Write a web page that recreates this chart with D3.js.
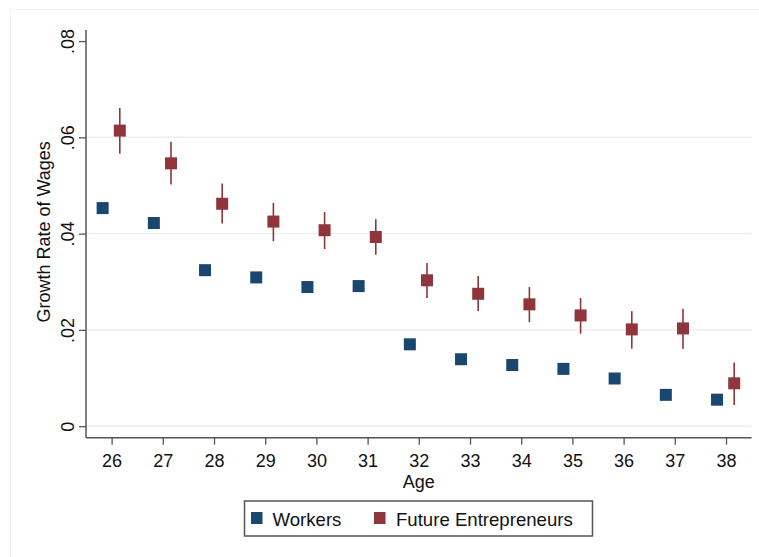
<!DOCTYPE html>
<html>
<meta charset="utf-8">
<head>
    <script src="https://d3js.org/d3.v7.min.js"></script>
    <style>
        body { margin: 0; background: #fff; }
        text { font-family: "Liberation Sans", Arial, sans-serif; fill: #111; }
    </style>
</head>
<body>
    <div id="my_dataviz"></div>
</body>

<script>
    // data
    const ages = [26, 27, 28, 29, 30, 31, 32, 33, 34, 35, 36, 37, 38];
    const workers = [0.0453, 0.0422, 0.0324, 0.0309, 0.0289, 0.0291, 0.0170, 0.0139, 0.0127, 0.0119, 0.0099, 0.0065, 0.0055];
    const workersLo = [0.0445, 0.0416, 0.0319, 0.0304, 0.0284, 0.0286, 0.0165, 0.0134, 0.0122, 0.0114, 0.0094, 0.0060, 0.0050];
    const workersHi = [0.0461, 0.0428, 0.0329, 0.0314, 0.0294, 0.0296, 0.0175, 0.0144, 0.0132, 0.0124, 0.0104, 0.0070, 0.0060];
    const entrep = [0.0614, 0.0546, 0.0462, 0.0425, 0.0407, 0.0393, 0.0303, 0.0275, 0.0253, 0.0230, 0.0201, 0.0203, 0.0089];
    const entrepLo = [0.0566, 0.0502, 0.0421, 0.0384, 0.0368, 0.0356, 0.0266, 0.0239, 0.0216, 0.0192, 0.0161, 0.0161, 0.0044];
    const entrepHi = [0.0661, 0.0591, 0.0504, 0.0464, 0.0445, 0.0430, 0.0339, 0.0312, 0.0289, 0.0266, 0.0239, 0.0244, 0.0132];
    const yTicks = [0, 0.02, 0.04, 0.06, 0.08];
    const seriesNames = ["Workers", "Future Entrepreneurs"];
    const colors = ["#1a476f", "#90353b"];
    const offsets = [-0.175, 0.16];

    const W = 759, H = 557;
    const pLeft = 86, pRight = 751.6, pTop = 30, pBottom = 437.7;

    const svg = d3.select("#my_dataviz")
        .append("svg")
            .attr("width", W)
            .attr("height", H);

    // faint outer frame
    svg.append("rect")
        .attr("x", 10.5).attr("y", 9.5)
        .attr("width", W).attr("height", H)
        .attr("fill", "none")
        .attr("stroke", "#f2f2f2");

    const x = d3.scaleLinear()
        .domain([25.5, 38.5])
        .range([pLeft, pRight]);

    const y = d3.scaleLinear()
        .domain([-0.0024, 0.0823])
        .range([pBottom, pTop]);

    // gridlines (not at top tick)
    svg.selectAll("line.grid")
        .data(yTicks.filter(d => d < 0.08))
        .join("line")
            .attr("class", "grid")
            .attr("x1", pLeft).attr("x2", pRight)
            .attr("y1", d => y(d)).attr("y2", d => y(d))
            .attr("stroke", "#eaf2f3")
            .attr("stroke-width", 1.5);

    // Y axis
    const yAxis = svg.append("g")
        .attr("transform", `translate(${pLeft},0)`)
        .call(d3.axisLeft(y)
            .tickValues(yTicks)
            .tickSize(7)
            .tickSizeOuter(0)
            .tickFormat(d => d === 0 ? "0" : d3.format(".2f")(d).replace(/^0/, "")));
    yAxis.select(".domain").attr("stroke", "#555").attr("stroke-width", 1.5)
        .attr("d", `M0,${pTop}V${pBottom}`);
    yAxis.selectAll(".tick line").attr("stroke", "#555").attr("stroke-width", 1.3);
    yAxis.selectAll("text")
        .attr("transform", "rotate(-90)")
        .attr("x", 0)
        .attr("y", -12)
        .attr("dy", 0)
        .style("text-anchor", "middle")
        .style("font-size", "18px")
        .style("font-family", "Liberation Sans, Arial, sans-serif")
        .style("fill", "#111");

    // X axis
    const xAxis = svg.append("g")
        .attr("transform", `translate(0,${pBottom})`)
        .call(d3.axisBottom(x)
            .tickValues(ages)
            .tickSize(7)
            .tickSizeOuter(0)
            .tickFormat(d3.format("d")));
    xAxis.select(".domain").attr("stroke", "#555").attr("stroke-width", 1.5)
        .attr("d", `M${pLeft},0H${pRight}`);
    xAxis.selectAll(".tick line").attr("stroke", "#555").attr("stroke-width", 1.3);
    xAxis.selectAll("text")
        .attr("y", 29.8)
        .attr("dy", 0)
        .style("font-size", "18px")
        .style("font-family", "Liberation Sans, Arial, sans-serif")
        .style("fill", "#111");

    // axis titles
    svg.append("text")
        .attr("x", (pLeft + pRight) / 2)
        .attr("y", 488)
        .attr("text-anchor", "middle")
        .style("font-size", "18px")
        .text("Age");

    svg.append("text")
        .attr("transform", `translate(50,${(pTop + pBottom) / 2 - 2})rotate(-90)`)
        .attr("text-anchor", "middle")
        .style("font-size", "18px")
        .text("Growth Rate of Wages");

    // series: CI spikes + square markers
    const series = [
        { name: seriesNames[0], val: workers, lo: workersLo, hi: workersHi },
        { name: seriesNames[1], val: entrep, lo: entrepLo, hi: entrepHi }
    ];
    const sq = 12;

    series.forEach((s, i) => {
        const g = svg.append("g");
        g.selectAll("line.ci")
            .data(ages)
            .join("line")
                .attr("class", "ci")
                .attr("x1", d => x(d + offsets[i]))
                .attr("x2", d => x(d + offsets[i]))
                .attr("y1", (d, j) => y(s.lo[j]))
                .attr("y2", (d, j) => y(s.hi[j]))
                .attr("stroke", colors[i])
                .attr("stroke-width", 1.6);
        g.selectAll("rect")
            .data(ages)
            .join("rect")
                .attr("x", d => x(d + offsets[i]) - sq / 2)
                .attr("y", (d, j) => y(s.val[j]) - sq / 2)
                .attr("width", sq)
                .attr("height", sq)
                .attr("fill", colors[i]);
    });

    // legend
    const lg = svg.append("g");
    lg.append("rect")
        .attr("x", 244.5).attr("y", 501)
        .attr("width", 348).attr("height", 35)
        .attr("fill", "#fff")
        .attr("stroke", "#555")
        .attr("stroke-width", 1.5);
    const legendX = [[251, 272.5], [374, 396]];
    seriesNames.forEach((n, i) => {
        lg.append("rect")
            .attr("x", legendX[i][0]).attr("y", 512)
            .attr("width", 11.5).attr("height", 12)
            .attr("fill", colors[i]);
        lg.append("text")
            .attr("x", legendX[i][1]).attr("y", 525.5)
            .style("font-size", "18.6px")
            .text(n);
    });
</script>
</html>
